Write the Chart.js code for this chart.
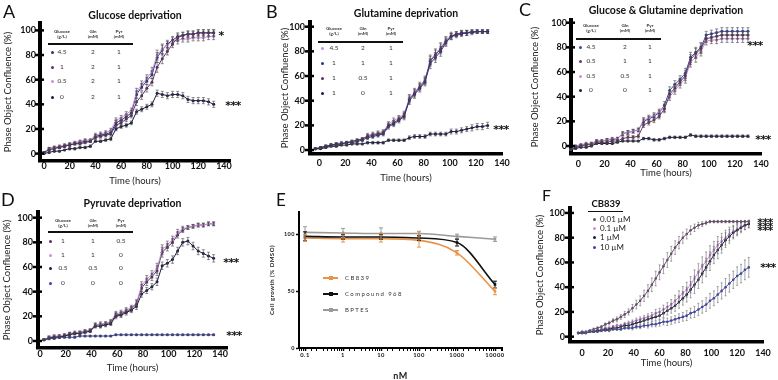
<!DOCTYPE html>
<html><head><meta charset="utf-8">
<script src="https://cdn.jsdelivr.net/npm/chart.js@4.4.1/dist/chart.umd.min.js"></script>
<style>
html,body{margin:0;padding:0;background:#fff;}
body{width:778px;height:380px;overflow:hidden;position:relative;font-family:Lato,"Open Sans",sans-serif;}
canvas{position:absolute;}
</style></head><body>
<script>
// ===================== DATA =====================
const yTicksPct = [0,20,40,60,80,100];
const xTicksTime = [0,20,40,60,80,100,120,140];

// Panel A – Glucose deprivation
const tA = [0,4,8,12,16,20,24,28,32,36,40,44,48,52,56,60,64,68,72,76,80,84,88,92,96,100,104,108,112,116,120,124,128,132];
const aGlc45 = [1,4,5,5,6,7,8,9,10,10,14,15,16,17,25,27,30,33,48,54,59,64,78,84,89,92,95,96,97,97,98,98,98,98];
const aGlc1  = [1,3,4,5,6,7,8,8,9,10,13,14,15,16,23,25,28,31,42,47,53,58,70,77,83,89,94,96,97,97,98,98,98,98];
const aGlc05 = [1,4,5,6,7,8,9,10,11,11,15,16,17,19,27,29,32,35,50,56,61,67,80,85,88,91,92,93,93,94,94,94,95,95];
const aGlc0  = [0,1,2,2,3,4,4,5,5,6,10,10,11,12,20,22,23,25,34,36,38,40,49,48,47,48,48,47,44,43,43,43,42,40];
const errA_hi = [0.5,1,1,1,1,1,1,1,1,1,1.5,1.5,1.5,1.5,2,2,2,2,3,3,3,3,4,4,3,3,3,2.5,2.5,2.5,2.5,2.5,2.5,2.5];
const errA_lo = [0.5,0.5,0.5,0.5,0.5,1,1,1,1,1,1,1,1,1.5,1.5,1.5,1.5,1.5,2,2,2,2,2.5,2.5,2.5,2.5,2.5,2.5,2.5,2.5,2.5,2.5,2.5,2.5];
const legA_glc = ['4.5','1','0.5','0'], legA_gln = ['2','2','2','2'], legA_pyr = ['1','1','1','1'];

// Panel B – Glutamine deprivation
const tB = [-3,1,5,9,13,17,21,25,29,33,37,41,45,49,53,57,61,65,69,73,77,81,85,89,93,97,101,105,109,113,117,121,125,129];
const bG45 = [1,2,3,4,5,6,6,7,8,9,12,13,14,15,21,24,26,29,42,47,52,57,73,78,83,89,93,94,95,95,96,96,96,96];
const bG11 = [1,2,3,4,5,5,6,6,7,8,10,11,12,13,19,21,24,27,40,45,50,55,70,75,80,87,92,93,94,95,95,96,96,96];
const bG105 = [1,2,3,4,4,5,6,7,8,9,11,12,13,14,20,22,25,28,41,46,51,56,72,77,82,88,92,94,95,95,96,96,96,96];
const bG10 = [1,1,2,3,3,4,4,5,5,5,6,6,6,6,8,8,8,8,10,11,11,11,13,13,13,13,15,15,16,17,18,19,19,20];
const errB_hi = [0.5,0.5,1,1,1,1,1,1,1,1,1.5,1.5,1.5,1.5,2,2,2,2.5,3,3,3,3,4,4,4,3,2.5,2,2,2,1.5,1.5,1.5,1.5];
const errB_lo = [0.5,0.5,0.5,0.5,0.5,0.5,0.5,0.5,0.5,0.5,1,1,1,1,1,1,1,1,1.5,1.5,1.5,1.5,1.5,1.5,1.5,1.5,2,2,2,2,2.5,2.5,2.5,2.5];
const legB_glc = ['4.5','1','1','1'], legB_gln = ['2','1','0.5','0'], legB_pyr = ['1','1','1','1'];

// Panel C – Glucose & Glutamine deprivation
const tC = [-6,-2,2,6,10,14,18,22,26,30,34,38,42,46,50,54,58,62,66,70,74,78,82,86,90,94,98,102,106,110,114,118,122,126,130];
const cG45 = [-3,0,1,1,2,4,4,5,5,6,10,11,12,13,20,22,24,27,33,45,50,54,59,72,76,80,90,91,92,93,93,93,93,93,93];
const cG051 = [-3,-1,0,1,1,3,3,3,4,4,6,7,7,8,17,19,21,24,30,42,47,52,57,70,75,79,87,88,89,90,90,90,90,90,90];
const cG0505 = [-3,0,1,2,2,4,4,5,6,6,10,11,12,13,21,23,25,28,31,40,45,50,55,68,72,77,85,86,86,87,87,87,87,87,87];
const cG00 = [-3,-2,-1,-1,0,2,2,2,2,3,4,4,4,4,6,6,5,5,6,7,7,7,7,9,8,8,8,8,8,8,8,8,8,8,8];
const errC_hi = [0.5,0.5,0.5,1,1,1,1,1,1,1,1.5,1.5,1.5,1.5,2,2,2,2,3,3,3,3,4,4,4,4,3,3,3,3,3,3,3,3,3];
const errC_lo = [0.5,0.5,0.5,0.5,0.5,0.5,0.5,0.5,0.5,0.5,0.5,0.5,0.5,0.5,1,1,1,1,1,1,1,1,1,1,1,1,1,1,1,1,1,1,1,1,1];
const legC_glc = ['4.5','0.5','0.5','0'], legC_gln = ['2','1','0.5','0'], legC_pyr = ['1','1','1','1'];

// Panel D – Pyruvate deprivation
const tD = [3,7,11,15,19,23,27,31,35,39,43,47,51,55,59,63,67,71,75,79,83,87,91,95,99,103,107,111,115,119,123,127,131,135];
const dP1105 = [1,3,3,4,4,6,6,7,8,8,13,13,14,15,21,22,24,26,30,43,48,52,57,72,76,80,86,90,92,93,94,94,95,95];
const dP110 = [1,3,4,4,5,6,7,7,8,9,13,14,14,16,22,23,25,27,31,45,50,54,59,74,78,82,88,91,92,93,94,94,95,95];
const dP05050 = [1,2,3,3,4,5,6,6,7,8,12,12,13,14,20,21,23,25,28,38,41,44,48,61,63,66,73,80,81,77,73,71,69,67];
const dP000 = [1,2,2,3,3,3,3,4,4,4,4,4,4,4,5,5,5,5,5,5,5,5,5,5,5,5,5,5,5,5,5,5,5,5];
const errD_hi = [0.5,1,1,1,1,1,1,1,1,1,1.5,1.5,1.5,1.5,2,2,2,2,2.5,3,3,3,4,4,3,3,2.5,2,1.5,1.5,1.5,1.5,1.5,1.5];
const errD_mid = [0.5,1,1,1,1,1,1,1,1,1,1.5,1.5,1.5,1.5,2,2,2,2,2.5,2.5,2.5,2.5,3,3,3,3,3,3,3,3,3,3,3,3];
const errD_lo = [0.5,0.5,0.5,0.5,0.5,0.5,0.5,0.5,0.5,0.5,0.5,0.5,0.5,0.5,0.5,0.5,0.5,0.5,0.5,0.5,0.5,0.5,0.5,0.5,0.5,0.5,0.5,0.5,0.5,0.5,0.5,0.5,0.5,0.5];
const legD_glc = ['1','1','0.5','0'], legD_gln = ['1','1','0.5','0'], legD_pyr = ['0.5','0','0','0'];

// Panel E – dose response
const eDose = [0.1,1,10,100,1000,10000];
const eDoseTicks = [0.1,1,10,100,1000,10000];
const eYTicks = [0,50,100];
const eCB839 = [97,96.5,96.5,95,84,50];
const eCB839Err = [3,3,3,6,2,3];
const e968 = [98.5,98,98,97,93,56];
const e968Err = [4,2,2,2,3,3];
const eBPTES = [102,101.5,101,101,98.5,96];
const eBPTESErr = [5,4,5,2,2,2];
const eNames = ['CB839','Compound 968','BPTES'];

// Panel F – CB839 concentrations
const tF = [-3,0,3,6,9,12,15,18,21,24,27,30,33,36,39,42,45,48,51,54,57,60,63,66,69,72,75,78,81,84,87,90,93,96,99,102,105,108,111,114,117,120,123,126,129];
const fC001 = [3,4,4,5,6,7,8,10,11,13,14,16,18,20,23,26,29,33,37,42,47,52,57,62,67,72,76,80,83,86,88,90,91,92,93,93,93,93,93,93,93,93,93,93,93];
const fC01 = [3,3,4,4,5,5,6,7,7,8,9,9,10,11,12,13,14,15,16,17,19,20,22,24,26,29,32,35,38,42,47,52,57,61,66,70,74,77,80,83,85,87,89,90,91];
const fC1 = [3,3,3,4,4,5,5,6,6,7,7,8,9,9,10,11,12,13,14,15,16,17,19,21,23,25,28,31,34,38,42,46,51,56,61,66,70,74,78,81,84,86,88,90,91];
const fC10 = [3,3,3,4,4,4,5,5,5,6,6,6,7,7,7,8,8,9,9,10,10,11,12,12,13,14,15,16,17,19,20,22,24,26,29,31,34,37,40,43,46,49,51,54,56];
const errF001 = [0.5,0.5,0.5,0.5,1,1,1,1,1.5,1.5,2,2,2.5,2.5,3,3.5,4,4.5,5,5.5,6,6,6,6,6,5.5,5,4.5,4,3.5,3,2.5,2,1.5,1,1,1,1,1,1,1,1,1,1,1];
const errF01 = [0.5,0.5,0.5,0.5,0.5,0.5,1,1,1,1,1,1,1.5,1.5,1.5,2,2,2,2.5,2.5,3,3,3.5,3.5,4,4.5,5,5.5,6,6.5,7,7,7.5,7.5,7.5,7,7,6.5,6,5.5,5,4.5,4,3.5,3];
const errF10 = [0.5,0.5,0.5,0.5,0.5,0.5,0.5,0.5,1,1,1,1,1,1,1.5,1.5,1.5,1.5,2,2,2,2.5,2.5,3,3,3,3.5,3.5,4,4,4.5,5,5,5.5,6,6,6.5,6.5,7,7,7,7.5,7.5,8,8];
const fNames = ['0.01 µM','0.1 µM','1 µM','10 µM'];

// ===================== STYLE =====================
const FONT = 'Lato, "Open Sans", sans-serif';
Chart.defaults.font.family = FONT;
Chart.defaults.color = '#111';
const NAVY='#2e3184', PURPLE='#5f2f6b', PINK='#c98fdc', DARK='#1c1c40', BLUE='#3d44a8', MAUVE='#6b3d60';

const errBars = {id:'errBars', afterDatasetsDraw(chart){
  const ctx = chart.ctx, ys = chart.scales.y;
  chart.data.datasets.forEach((ds,di)=>{
    if(!ds.errors) return;
    const meta = chart.getDatasetMeta(di);
    ctx.save(); ctx.strokeStyle = ds.errColor || '#666'; ctx.lineWidth = ds.errWidth || 0.7;
    const cap = ds.capW == null ? 1.5 : ds.capW;
    meta.data.forEach((pt,i)=>{
      const v = ds.data[i].y, e = ds.errors[i]; if(!e) return;
      const y1 = ys.getPixelForValue(v+e), y2 = ys.getPixelForValue(v-e);
      ctx.beginPath(); ctx.moveTo(pt.x,y1); ctx.lineTo(pt.x,y2);
      ctx.moveTo(pt.x-cap,y1); ctx.lineTo(pt.x+cap,y1); ctx.moveTo(pt.x-cap,y2); ctx.lineTo(pt.x+cap,y2);
      ctx.stroke();
    });
    ctx.restore();
  });
}};
const crossTicks = {id:'crossTicks', afterDraw(chart, args, o){
  if(!o || !o.on) return;
  const ys = chart.scales.y, ctx = chart.ctx, L = chart.chartArea.left;
  ctx.save(); ctx.strokeStyle='#000'; ctx.lineWidth=2.5;
  ys.ticks.forEach(t=>{ const py = ys.getPixelForValue(t.value); ctx.beginPath(); ctx.moveTo(L-5,py); ctx.lineTo(L+4,py); ctx.stroke(); });
  ctx.restore();
}};
const spacing = {id:'spacing', beforeDraw(chart, args, o){ if(o && o.px) chart.ctx.letterSpacing = o.px; }};

function ser(times, vals, color, errs, extra){
  return Object.assign({
    data: times.map((t,i)=>({x:t, y:vals[i]})),
    borderColor: color, backgroundColor: color, pointBackgroundColor: color, pointBorderColor: color,
    pointRadius: 1.5, pointBorderWidth: 0, borderWidth: 1, tension: 0,
    errors: errs, errColor: 'rgba(70,70,70,0.85)'
  }, extra || {});
}

function panel(s){
  const c = document.createElement('canvas');
  c.width = s.cw; c.height = s.ch;
  c.style.cssText = `left:${s.cx}px;top:${s.cy}px;width:${s.cw}px;height:${s.ch}px;`;
  document.body.appendChild(c);
  const xTF = s.xTitleFont || {size:9.5};
  const yTF = s.yTitleFont || {size:9.5};
  const tickFont = s.tickFont || {size:9, weight:'bold', lineHeight:1};
  const x = Object.assign({
    type:'linear', min:s.xmin, max:s.xmax,
    border:{display:true, color:'#000', width:s.xBorder || 3.5},
    grid:{display:false, drawTicks:false},
    ticks:{font:tickFont, color:'#111', padding:s.xLabPad, maxRotation:0, autoSkip:false},
    title:{display:true, text:s.xTitle, font:xTF, color:'#222', padding:{top:0, bottom: s.cy + s.ch - s.xTitleY - xTF.size*1.2/2}},
    afterFit: sc => { sc.height = s.cy + s.ch - s.B; }
  }, s.xExtra || {});
  if (s.xTicks) x.afterBuildTicks = sc => { sc.ticks = s.xTicks.map(v=>({value:v})); };
  const y = Object.assign({
    type:'linear', min:s.ymin, max:s.ymax,
    border:{display:true, color:'#000', width:s.yBorder || 4},
    grid:{display:false, drawTicks:false},
    ticks:{font:tickFont, color:'#111', padding:s.yLabPad},
    title:{display:true, text:s.yTitle, font:yTF, color:'#222', padding:{top: s.yTitleX - s.cx - yTF.size*1.2/2, bottom:0}},
    afterBuildTicks: sc => { sc.ticks = s.yTicks.map(v=>({value:v})); },
    afterFit: sc => { sc.width = s.L - s.cx; }
  }, s.yExtra || {});
  const hasTitle = !!s.title;
  new Chart(c, {
    type:'line',
    data:{datasets:s.datasets},
    options:{
      responsive:false, animation:false, devicePixelRatio:1, events:[],
      layout:{padding:{left:0, right: s.cx + s.cw - s.R, top: hasTitle ? 0 : s.T - s.cy, bottom:0}},
      plugins:{
        legend:{display:false}, tooltip:{enabled:false},
        title: hasTitle ? {display:true, text:s.title, fullSize:false, color:'#111',
          font:{size:10.5, weight:'bold', lineHeight:1},
          padding:{top: s.titleY - s.cy - 5.25, bottom: s.T - s.titleY - 5.25}} : {display:false},
        crossTicks:{on: s.cross !== false},
        spacing:{px: s.letterSpacing || ''}
      },
      scales:{x, y}
    },
    plugins:[errBars, crossTicks, spacing]
  });
}

// ===================== HTML OVERLAYS =====================
function addDiv(html, css){ const d=document.createElement('div'); d.innerHTML=html; d.style.cssText='position:absolute;'+css; document.body.appendChild(d); return d; }
function tableLegend(p){
  addDiv('', `left:${p.x}px;top:${p.y-1}px;width:85px;height:2px;background:#111;`);
  const heads = ['Glucose<br>(g/L)','Gln<br>(mM)','Pyr<br>(mM)'];
  heads.forEach((h,k)=> addDiv(h, `left:${p.x+p.cols[k+1]-15}px;width:30px;top:${p.y+p.headDy-5}px;font-size:4.5px;line-height:5px;text-align:center;font-weight:bold;color:#333;`));
  p.glc.forEach((g,r)=>{
    const yy = p.y + p.rows[r];
    addDiv('', `left:${p.x+p.cols[0]-1.5}px;top:${yy-1.5}px;width:3px;height:3px;border-radius:50%;background:${p.colors[r]};`);
    [g, p.gln[r], p.pyr[r]].forEach((v,k)=> addDiv(v, `left:${p.x+p.cols[k+1]-10}px;width:20px;top:${yy-4}px;font-size:6.5px;line-height:8px;text-align:center;color:#333;`));
  });
}
function star(txt, cx, cy){ addDiv(txt, `left:${cx}px;top:${cy - 3.4}px;transform:translateX(-50%);font-family:'DejaVu Sans',sans-serif;font-size:11px;line-height:11px;font-weight:bold;letter-spacing:-0.6px;color:#111;white-space:nowrap;`); }
function letter(t, x, y, fs){ addDiv(t, `left:${x}px;top:${y}px;font-size:${fs}px;line-height:${fs}px;color:#111;`); }

const PHASE = 'Phase Object Confluence (%)', TIME = 'Time (hours)';

// Panel A
panel({cx:0, cy:0, cw:250, ch:192, L:40, R:230, T:23, B:161, xmin:-3.1, xmax:144.7, ymin:-6, ymax:106,
  title:'Glucose deprivation', titleY:16, yTitle:PHASE, yTitleX:8, xTitle:TIME, xTitleY:181, yLabPad:4, xLabPad:0.5,
  xTicks:xTicksTime, yTicks:yTicksPct,
  datasets:[ser(tA,aGlc0,DARK,errA_lo), ser(tA,aGlc1,PURPLE,errA_hi), ser(tA,aGlc05,PINK,errA_hi), ser(tA,aGlc45,NAVY,errA_hi)]});
// Panel B
panel({cx:270, cy:0, cw:245, ch:190, L:310, R:502, T:22, B:154, xmin:-7.1, xmax:140, ymin:-3.2, ymax:103.8,
  title:'Glutamine deprivation', titleY:13.3, yTitle:PHASE, yTitleX:285, xTitle:TIME, xTitleY:178.3, yLabPad:5, xLabPad:4.8,
  xTicks:xTicksTime, yTicks:yTicksPct,
  datasets:[ser(tB,bG10,DARK,errB_lo), ser(tB,bG11,NAVY,errB_hi), ser(tB,bG105,PURPLE,errB_hi), ser(tB,bG45,PINK,errB_hi)]});
// Panel C
panel({cx:522, cy:0, cw:256, ch:185, L:571, R:761, T:20, B:154, xmin:-5.6, xmax:140, ymin:-6.5, ymax:102.2,
  title:'Glucose & Glutamine deprivation', titleY:10.3, yTitle:PHASE, yTitleX:535, xTitle:TIME, xTitleY:173, yLabPad:4, xLabPad:5.5,
  xTicks:xTicksTime, yTicks:yTicksPct,
  datasets:[ser(tC,cG00,DARK,errC_lo), ser(tC,cG051,MAUVE,errC_hi), ser(tC,cG0505,PINK,errC_hi), ser(tC,cG45,BLUE,errC_hi)]});
// Panel D
panel({cx:0, cy:188, cw:250, ch:192, L:38, R:227, T:212, B:348, xmin:-1.56, xmax:145.4, ymin:-5.7, ymax:104.6,
  title:'Pyruvate deprivation', titleY:203.7, yTitle:PHASE, yTitleX:7, xTitle:TIME, xTitleY:368.3, yLabPad:5, xLabPad:1.8,
  xTicks:xTicksTime, yTicks:yTicksPct,
  datasets:[ser(tD,dP000,BLUE,errD_lo), ser(tD,dP05050,DARK,errD_mid), ser(tD,dP110,PINK,errD_hi), ser(tD,dP1105,PURPLE,errD_hi)]});
// Panel E
const eSer = (vals, errs, color) => ({
  data: eDose.map((d,i)=>({x:d, y:vals[i]})), borderColor:color, backgroundColor:color,
  pointBackgroundColor:color, pointBorderColor:color, pointStyle:'rect', pointRadius:1.8, pointBorderWidth:0,
  borderWidth:1.6, cubicInterpolationMode:'monotone', errors:errs, errColor:color, errWidth:1, capW:2
});
panel({cx:262, cy:188, cw:258, ch:196, L:299, R:502, T:212, B:348, xmin:0.0695, xmax:15280, ymin:0, ymax:120,
  yTitle:'Cell growth (% DMSO)', yTitleX:272, yTitleFont:{size:6, weight:'bold'},
  xTitle:'nM', xTitleY:376, xTitleFont:{size:9, weight:'bold'},
  tickFont:{size:5.5, weight:'bold', lineHeight:1}, yLabPad:1, xLabPad:4.5, xBorder:2, yBorder:2, cross:false,
  letterSpacing:'0.5px', yTicks:eYTicks,
  xExtra:{type:'logarithmic',
    grid:{display:true, drawOnChartArea:false, drawTicks:true, tickLength:3, tickColor:'#000', tickWidth: c => (c.tick && c.tick.major) ? 1.5 : 1},
    ticks:{font:{size:5.8, weight:'bold', lineHeight:1}, color:'#111', padding:1.5, maxRotation:0, autoSkip:false,
      callback: v => { const m = eDoseTicks.find(t => Math.abs(Math.log10(t) - Math.log10(v)) < 1e-6); return m === undefined ? '' : String(m); }}},
  yExtra:{grid:{display:true, drawOnChartArea:false, drawTicks:true, tickLength:3, tickColor:'#000', tickWidth:1.5}},
  datasets:[eSer(eBPTES,eBPTESErr,'#9a9a9a'), eSer(e968,e968Err,'#111111'), eSer(eCB839,eCB839Err,'#e8934a')]});
// Panel F
const fErr = 'rgba(90,90,90,0.75)';
panel({cx:530, cy:188, cw:248, ch:192, L:570, R:763, T:208, B:342, xmin:-9.3, xmax:140, ymin:-4.3, ymax:104,
  yTitle:PHASE, yTitleX:540, xTitle:TIME, xTitleY:363.3, yLabPad:5, xLabPad:6.8,
  xTicks:xTicksTime, yTicks:yTicksPct,
  datasets:[ser(tF,fC10,BLUE,errF10,{errColor:fErr,pointRadius:1.3,capW:1}), ser(tF,fC1,DARK,errF01,{errColor:fErr,pointRadius:1.3,capW:1}),
            ser(tF,fC01,PINK,errF01,{errColor:fErr,pointRadius:1.3,capW:1}), ser(tF,fC001,'#6a4a70',errF001,{errColor:fErr,pointRadius:1.3,capW:1})]});

// Legends (tables)
tableLegend({x:48, y:44, rows:[8,23,37,53], cols:[4,14,45,71], headDy:-10, glc:legA_glc, gln:legA_gln, pyr:legA_pyr, colors:[NAVY,PURPLE,PINK,DARK]});
tableLegend({x:318, y:42, rows:[6,21,36,51], cols:[4,16,45,73], headDy:-11, glc:legB_glc, gln:legB_gln, pyr:legB_pyr, colors:[PINK,NAVY,PURPLE,DARK]});
tableLegend({x:576, y:39, rows:[8,22,37,51], cols:[4,15,49,74], headDy:-11, glc:legC_glc, gln:legC_gln, pyr:legC_pyr, colors:[BLUE,MAUVE,PINK,DARK]});
tableLegend({x:48, y:232, rows:[9,23,36,51], cols:[2,15,45,73], headDy:-9.5, glc:legD_glc, gln:legD_gln, pyr:legD_pyr, colors:[PURPLE,PINK,DARK,BLUE]});

// Legend E
const eCols = ['#e8934a','#111111','#9a9a9a'];
[278,294,310].forEach((yy,i)=>{
  addDiv('', `left:323px;top:${yy-0.8}px;width:15px;height:1.6px;background:${eCols[i]};`);
  addDiv('', `left:329px;top:${yy-1.8}px;width:3.6px;height:3.6px;background:${eCols[i]};`);
  addDiv(eNames[i], `left:345px;top:${yy-4}px;font-size:6px;line-height:8px;letter-spacing:1.4px;color:#333;white-space:nowrap;`);
});
// Legend F
addDiv('CB839', `left:586px;width:40px;top:198px;font-size:9.5px;line-height:12px;font-weight:bold;text-align:center;color:#111;`);
addDiv('', `left:588px;top:210.5px;width:35px;height:1.3px;background:#111;`);
const fCols = ['#6a4a70',PINK,DARK,BLUE];
[219,228,237,247].forEach((yy,i)=>{
  addDiv('', `left:592.5px;top:${yy-1.5}px;width:3px;height:3px;border-radius:50%;background:${fCols[i]};`);
  addDiv(fNames[i], `left:600px;top:${yy-5}px;font-size:8px;line-height:10px;color:#222;white-space:nowrap;`);
});

// Significance marks
star('*',221,33); star('***',233,103);
star('***',501,127);
star('***',755,43); star('***',763,137);
star('***',231,260); star('***',234,333);
star('***',765,220); star('***',765,224); star('***',765,228); star('***',768,265);

// Panel letters
letter('A',3,2,18); letter('B',266,2,18); letter('C',519,0,18);
letter('D',1,190,18); letter('E',276,191,17); letter('F',542,187,16);
</script>
</body></html>
